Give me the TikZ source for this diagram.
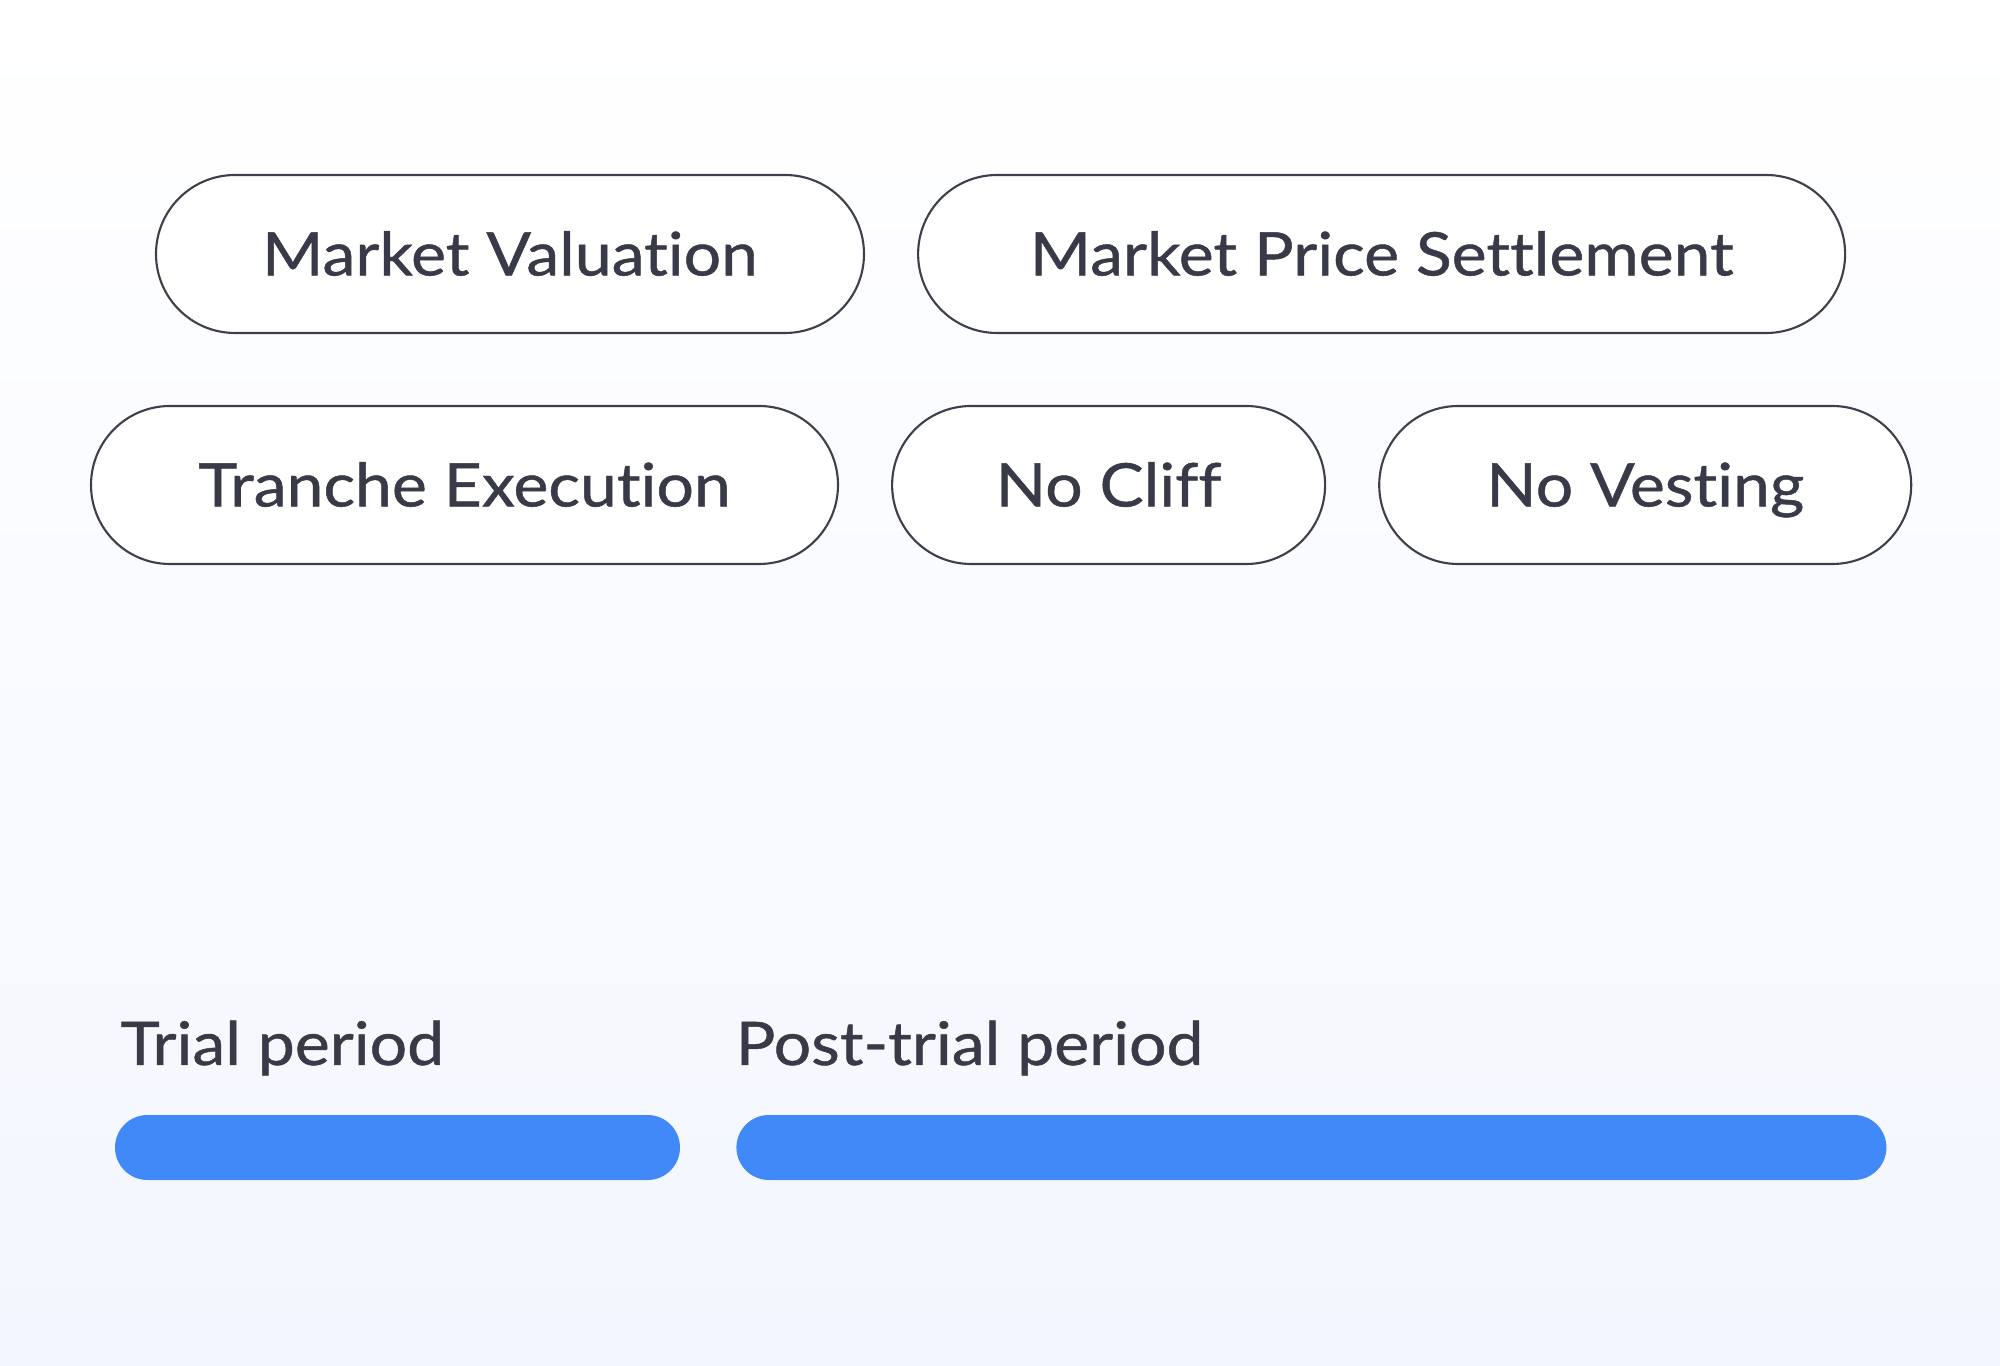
\documentclass[tikz,border=0pt]{standalone}
\usepackage{fontspec}
\setmainfont{Lato}[FakeStretch=1.1, FakeBold=0.8, Ligatures=NoCommon]
\usepackage{tikz}
\usetikzlibrary{positioning}
\definecolor{ink}{HTML}{383A47}
\definecolor{rim}{HTML}{3E3F4B}
\definecolor{barblue}{HTML}{4189F9}
\definecolor{bgblue}{HTML}{F3F6FE}

\begin{document}
\begin{tikzpicture}[node distance={5.2mm}, pill/.style={draw=rim, line width=0.6pt, fill=white, rounded corners=7.9mm, minimum height=15.8mm, inner sep=0pt, text height=12.2pt, text depth=0pt, text=ink, font=\fontsize{17.1pt}{20pt}\selectfont}, bar/.style={fill=barblue, rounded corners=3.25mm, minimum height=6.5mm, inner sep=0pt}, lbl/.style={anchor=base west, inner sep=0pt, text=ink, font=\fontsize{17.1pt}{20pt}\selectfont}]
          \shade[top color=white, bottom color=bgblue] (0,0) rectangle (20,-13.66);
          \useasboundingbox (0,0) rectangle (20,-13.66);

          \node[pill, minimum width=70.8mm] (mv) at (5.10,-2.54) {Market Valuation};
          \node[pill, minimum width=92.7mm] (mps) [right=of mv] {Market Price Settlement};
          \node[pill, minimum width=74.7mm] (te) at (4.645,-4.85) {Tranche Execution};
          \node[pill, minimum width=43.3mm] (nc) [right=of te] {No Cliff};
          \node[pill, minimum width=53.2mm] (nv) [right=of nc] {No Vesting};

          \node[bar, minimum width=56.5mm] (trial) at (3.975,-11.475) {};
          \node[bar, minimum width=115mm] (post) [right=5.5mm of trial] {};
          \node[lbl] (triallbl) at (1.20,-10.65) {Trial period};
          \node[lbl] (postlbl) at (7.35,-10.65) {Post-trial period};
        \end{tikzpicture}
\end{document}
